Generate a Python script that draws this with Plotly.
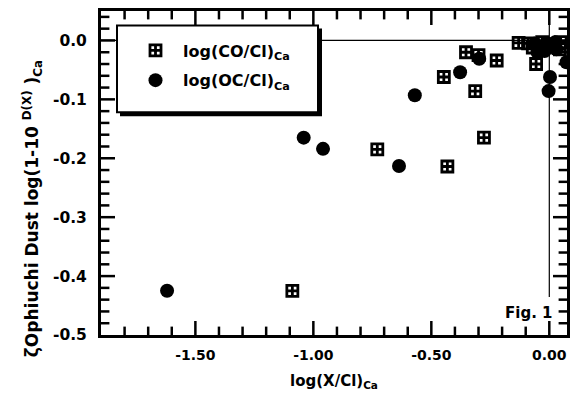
import plotly.graph_objects as go

# ---- data ----
co_x = [-1.089, -0.729, -0.432, -0.277, -0.314, -0.447, -0.353, -0.300, -0.223,
        -0.130, -0.056, -0.090, -0.070, -0.030, 0.000, 0.048, 0.045]
co_y = [-0.425, -0.185, -0.214, -0.165, -0.086, -0.062, -0.020, -0.025, -0.034,
        -0.004, -0.040, -0.005, -0.012, -0.003, -0.008, -0.003, -0.015]

oc_x = [-1.620, -1.041, -0.959, -0.637, -0.570, -0.378, -0.297, 0.003, -0.003, 0.073,
        -0.060, -0.040, -0.020, -0.010, 0.010, 0.025, 0.030, -0.050]
oc_y = [-0.425, -0.165, -0.184, -0.213, -0.093, -0.054, -0.031, -0.062, -0.086, -0.037,
        -0.005, -0.012, -0.018, -0.005, -0.010, -0.003, -0.015, -0.020]

x_tickvals = [-1.5, -1.0, -0.5, 0.0]
x_ticktext = ["-1.50", "-1.00", "-0.50", "0.00"]
y_tickvals = [0.0, -0.1, -0.2, -0.3, -0.4, -0.5]
y_ticktext = ["0.0", "-0.1", "-0.2", "-0.3", "-0.4", "-0.5"]

series_names = ["log(CO/Cl)<sub>Ca</sub>", "log(OC/Cl)<sub>Ca</sub>"]
x_title = "log(X/Cl)<sub>Ca</sub>"
y_title = "ζOphiuchi Dust log(1-10 <sup>D(X)</sup> )<sub>Ca</sub>"
fig_label = "Fig. 1"

X_RANGE = [-1.9, 0.075]
Y_RANGE = [-0.5, 0.05]
FONT = "DejaVu Sans"

# tick positions (major = labelled values, minor = regular steps)
x_all_ticks = [round(-1.8 + 0.1 * i, 2) for i in range(19)]
y_all_ticks = [round(0.04 - 0.02 * i, 2) for i in range(27)]


def is_major(v, majors):
    return any(abs(v - t) < 1e-9 for t in majors)


x_major = [v for v in x_all_ticks if is_major(v, x_tickvals)]
x_minor = [v for v in x_all_ticks if not is_major(v, x_tickvals)]
y_major = [v for v in y_all_ticks if is_major(v, y_tickvals)]
y_minor = [v for v in y_all_ticks if not is_major(v, y_tickvals)]

fig = go.Figure()

# tick marks drawn as edge markers, half clipped by the plot area
def tick_trace(xs, ys, symbol, size):
    return go.Scatter(
        x=xs, y=ys, mode="markers", showlegend=False, hoverinfo="skip",
        cliponaxis=True,
        marker=dict(symbol=symbol, size=size, color="black",
                    line=dict(color="black", width=2.5)),
    )

fig.add_trace(tick_trace(x_major * 2, [Y_RANGE[0]] * len(x_major) + [Y_RANGE[1]] * len(x_major),
                         "line-ns-open", 20))
fig.add_trace(tick_trace(x_minor * 2, [Y_RANGE[0]] * len(x_minor) + [Y_RANGE[1]] * len(x_minor),
                         "line-ns-open", 12))
fig.add_trace(tick_trace([X_RANGE[0]] * len(y_major) + [X_RANGE[1]] * len(y_major), y_major * 2,
                         "line-ew-open", 20))
fig.add_trace(tick_trace([X_RANGE[0]] * len(y_minor) + [X_RANGE[1]] * len(y_minor), y_minor * 2,
                         "line-ew-open", 12))

fig.add_trace(go.Scatter(
    x=co_x, y=co_y, mode="markers", name=series_names[0], legendgroup="a",
    marker=dict(symbol="square-cross-open", size=11, color="black",
                line=dict(color="black", width=2.8)),
))
fig.add_trace(go.Scatter(
    x=oc_x, y=oc_y, mode="markers", name=series_names[1], legendgroup="b",
    marker=dict(symbol="circle", size=14, color="black", line=dict(width=0)),
))

L, R, T, B = 101, 5, 10.5, 62
W, H = 572, 397
pw, ph = W - L - R, H - T - B


def px_x(p):
    return (p - L) / pw


def px_y(p):
    return (H - B - p) / ph


shapes = [
    # reference lines
    dict(type="line", xref="x", yref="y", x0=-1.9, x1=0, y0=0, y1=0,
         line=dict(color="black", width=1.2), layer="below"),
    dict(type="line", xref="x", yref="paper", x0=0, x1=0, y0=px_y(297), y1=1,
         line=dict(color="black", width=1.2), layer="below"),
    # legend shadow and box
    dict(type="rect", xref="paper", yref="paper",
         x0=px_x(120), x1=px_x(322), y0=px_y(116), y1=px_y(28),
         fillcolor="black", line=dict(width=0), layer="above"),
    dict(type="rect", xref="paper", yref="paper",
         x0=px_x(117), x1=px_x(318), y0=px_y(112), y1=px_y(25),
         fillcolor="white", line=dict(color="black", width=2), layer="above"),
]

fig.update_layout(
    width=W, height=H,
    margin=dict(l=L, r=R, t=T, b=B, pad=0, autoexpand=False),
    paper_bgcolor="white", plot_bgcolor="white",
    font=dict(family=FONT, color="black", size=14, weight="bold"),
    showlegend=True,
    legend=dict(
        x=px_x(128), y=px_y(33), xanchor="left", yanchor="top",
        bgcolor="rgba(0,0,0,0)", borderwidth=0,
        font=dict(family=FONT, size=16, weight="bold"),
        itemwidth=45, tracegroupgap=6,
    ),
    shapes=shapes,
    annotations=[
        dict(text=fig_label, xref="paper", yref="paper",
             x=px_x(554), y=px_y(313), xanchor="right", yanchor="middle",
             showarrow=False, font=dict(family=FONT, size=15, weight="bold")),
        dict(text=y_title, xref="paper", yref="paper", textangle=-90,
             x=px_x(32), y=px_y(209), xanchor="center", yanchor="middle",
             showarrow=False, font=dict(family=FONT, size=17, weight="bold")),
    ],
)

common = dict(
    showgrid=False, zeroline=False, automargin=False,
    showline=True, linecolor="black", linewidth=3, mirror=True,
    tickmode="array", ticks="",
)

fig.update_layout(
    xaxis=dict(
        range=X_RANGE, tickvals=x_tickvals, ticktext=x_ticktext,
        ticklabelstandoff=5, tickfont=dict(family=FONT, size=14, weight="bold"),
        title=dict(text=x_title, standoff=14,
                   font=dict(family=FONT, size=15, weight="bold")),
        **common,
    ),
    yaxis=dict(
        range=Y_RANGE, tickvals=y_tickvals, ticktext=y_ticktext,
        ticklabelstandoff=8, tickfont=dict(family=FONT, size=15.5, weight="bold"),
        **common,
    ),
)

fig.write_html("out.html", post_script="document.body.style.margin='0px';",
               config={"displayModeBar": False})
